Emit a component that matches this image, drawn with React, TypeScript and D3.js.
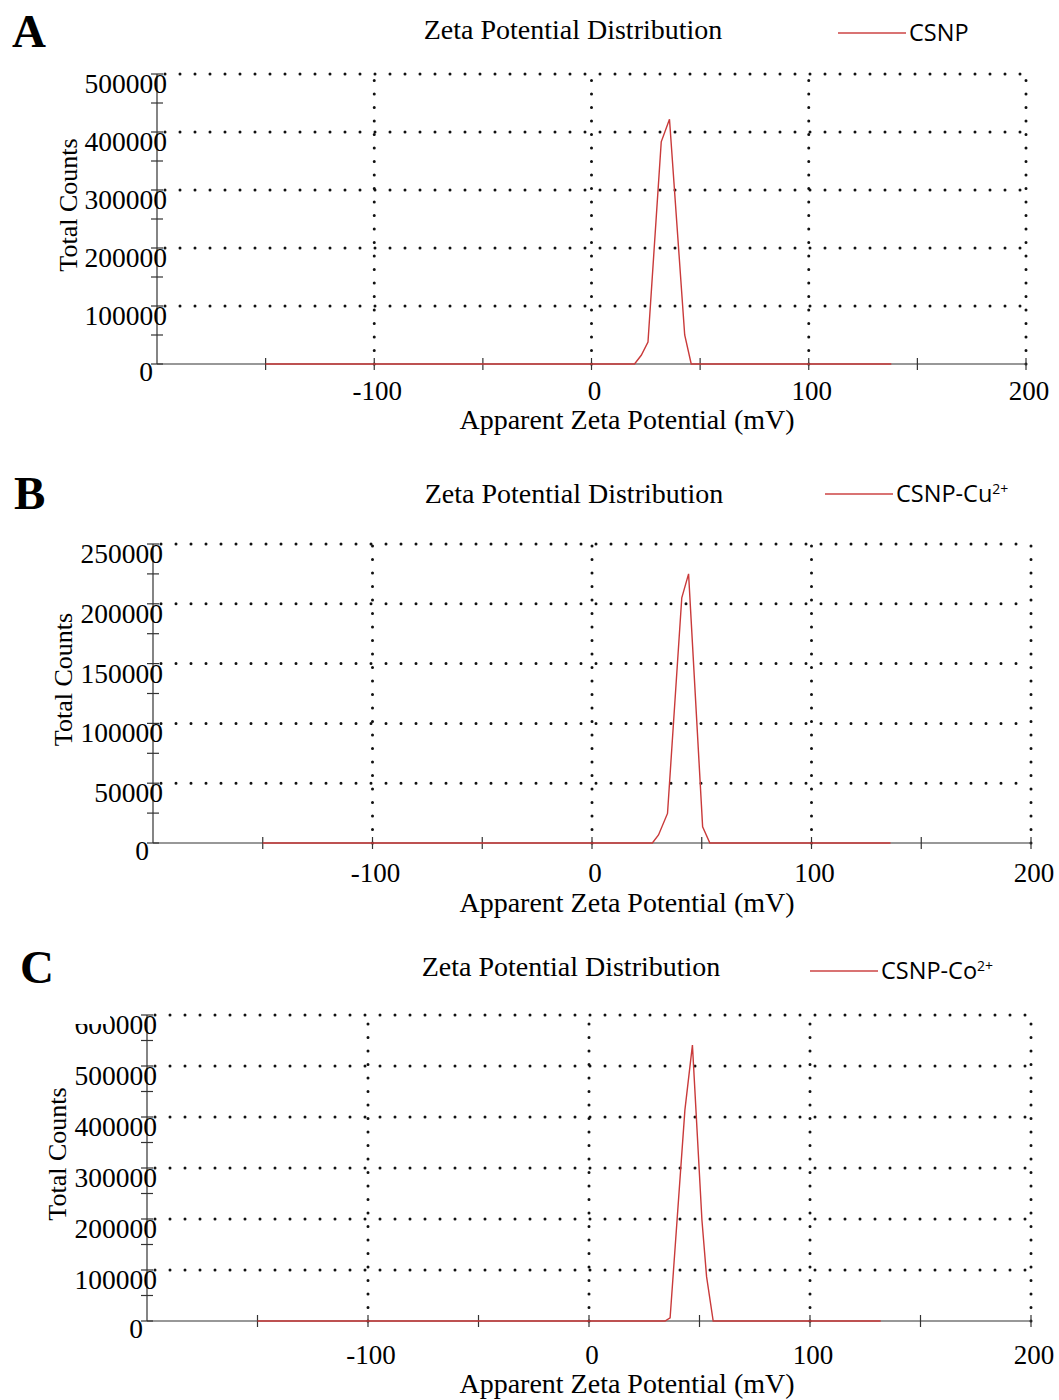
import React from "react";
import * as d3 from "d3";

// x ticks shared by all three panels (mV)
const xTickValues = [-150, -100, -50, 0, 50, 100, 150, 200];
const xTickLabels = ["-100", "0", "100", "200"];
const xLabelValues = [-100, 0, 100, 200];

// panel A: CSNP
const zetaA = [-150, 19.8, 22.9, 26, 32.1, 35.9, 42.9, 45.9, 138];
const countsA = [0, 0, 15000, 38000, 383000, 422000, 50000, 0, 0];
const yTicksA = [100000, 200000, 300000, 400000, 500000];

// panel B: CSNP-Cu2+
const zetaB = [-150, 27.5, 30.3, 34.4, 40.9, 44, 50.4, 53.7, 136];
const countsB = [0, 0, 6700, 24700, 205000, 225000, 13600, 0, 0];
const yTicksB = [50000, 100000, 150000, 200000, 250000];

// panel C: CSNP-Co2+
const zetaC = [-150, 34.4, 36.7, 43.4, 46.8, 51.1, 53.2, 56.2, 132];
const countsC = [0, 0, 6000, 414000, 541000, 198000, 87000, 0, 0];
const yTicksC = [100000, 200000, 300000, 400000, 500000, 600000];

const serif = "'Liberation Serif', 'Times New Roman', serif";
const sans = "'Open Sans', 'Liberation Sans', sans-serif";

interface PanelProps {
  letter: string;
  letterPos: [number, number];
  x0: number;
  x1: number;
  y0: number;
  yTop: number;
  yMax: number;
  yTicks: number[];
  zeta: number[];
  counts: number[];
  titleY: number;
  titleX: number;
  legendX: number;
  legendY: number;
  legend: React.ReactNode;
  yLabelX: number;
  tickLabelDy: number;
  xTitleDy: number;
  clipTop?: boolean;
}

const Panel: React.FC<PanelProps> = (p) => {
  const x = d3.scaleLinear().domain([-200, 200]).range([p.x0, p.x1]);
  const y = d3.scaleLinear().domain([0, p.yMax]).range([p.y0, p.yTop]);
  const step = p.yTicks[1] - p.yTicks[0];
  const minor = d3.range(0, p.yMax + 1, step / 2);
  const line = d3
    .line<number>()
    .x((_, i) => x(p.zeta[i]))
    .y((d) => y(d));
  const clipId = "clip" + p.letter;

  return (
    <g>
      <text
        x={p.letterPos[0]}
        y={p.letterPos[1]}
        fontFamily={serif}
        fontWeight="bold"
        fontSize={47}
      >
        {p.letter}
      </text>
      <text x={p.titleX} y={p.titleY} textAnchor="middle" fontFamily={serif} fontSize={28}>
        Zeta Potential Distribution
      </text>
      <line
        x1={p.legendX}
        x2={p.legendX + 68}
        y1={p.legendY}
        y2={p.legendY}
        stroke="#cc4444"
        strokeWidth={1.3}
      />
      <text x={p.legendX + 71} y={p.legendY + 8} fontFamily={sans} fontSize={23.5}>
        {p.legend}
      </text>

      {/* dotted grid */}
      {p.yTicks.map((t) => (
        <line
          key={"h" + t}
          x1={p.x0 + 8}
          x2={p.x1}
          y1={y(t)}
          y2={y(t)}
          stroke="#111"
          strokeWidth={3}
          strokeLinecap="round"
          strokeDasharray="0 15"
        />
      ))}
      {xLabelValues.map((t) => (
        <line
          key={"v" + t}
          x1={x(t)}
          x2={x(t)}
          y1={p.y0}
          y2={p.yTop}
          stroke="#111"
          strokeWidth={3}
          strokeLinecap="round"
          strokeDasharray="0 13.5"
        />
      ))}

      {/* axes */}
      <line x1={p.x0} x2={p.x1} y1={p.y0} y2={p.y0} stroke="#333" strokeWidth={1.2} />
      <line x1={p.x0} x2={p.x0} y1={p.y0} y2={p.yTop} stroke="#333" strokeWidth={1.2} />
      {xTickValues.map((t) => (
        <line key={"xt" + t} x1={x(t)} x2={x(t)} y1={p.y0 - 6} y2={p.y0 + 6} stroke="#333" strokeWidth={1.2} />
      ))}
      {minor.map((t) => (
        <line key={"yt" + t} x1={p.x0 - 6} x2={p.x0 + 6} y1={y(t)} y2={y(t)} stroke="#333" strokeWidth={1.2} />
      ))}

      {/* y tick labels */}
      <defs>
        <clipPath id={clipId}>
          <rect x={0} y={p.yTop + 9} width={p.x0 + 30} height={p.y0 - p.yTop + 60} />
          <rect x={p.x0 - 37} y={p.yTop - 20} width={70} height={60} />
        </clipPath>
      </defs>
      <g clipPath={p.clipTop ? `url(#${clipId})` : undefined}>
        {p.yTicks.map((t) => (
          <text
            key={"yl" + t}
            x={p.x0 + 10}
            y={y(t) + 19}
            textAnchor="end"
            fontFamily={serif}
            fontSize={27.5}
          >
            {t}
          </text>
        ))}
      </g>
      <text x={p.x0 - 4} y={p.y0 + 17} textAnchor="end" fontFamily={serif} fontSize={27.5}>
        0
      </text>
      {xLabelValues.map((t, i) => (
        <text
          key={"xl" + t}
          x={x(t) + 3}
          y={p.y0 + p.tickLabelDy}
          textAnchor="middle"
          fontFamily={serif}
          fontSize={27}
        >
          {xTickLabels[i]}
        </text>
      ))}
      <text
        x={627}
        y={p.y0 + p.xTitleDy}
        textAnchor="middle"
        fontFamily={serif}
        fontSize={28}
      >
        Apparent Zeta Potential (mV)
      </text>
      <text
        transform={`translate(${p.yLabelX},${(p.y0 + p.yTop) / 2 - 14}) rotate(-90)`}
        textAnchor="middle"
        fontFamily={serif}
        fontSize={26}
      >
        Total Counts
      </text>

      {/* data */}
      <path d={line(p.counts) ?? ""} fill="none" stroke="#c93a3a" strokeWidth={1.4} />
    </g>
  );
};

const sup = (s: string) => (
  <tspan dy={-8} fontSize={14}>
    {s}
  </tspan>
);

export default function App() {
  return (
    <svg
      width={1059}
      height={1400}
      style={{ position: "absolute", left: 0, top: 0, background: "#fff" }}
    >
      <rect width={1059} height={1400} fill="#fff" />
      <Panel
        letter="A"
        letterPos={[12, 47]}
        x0={157}
        x1={1026}
        y0={364}
        yTop={74}
        yMax={500000}
        yTicks={yTicksA}
        zeta={zetaA}
        counts={countsA}
        titleX={573}
        titleY={39}
        legendX={838}
        legendY={33}
        legend="CSNP"
        yLabelX={77}
        tickLabelDy={36}
        xTitleDy={65}
      />
      <Panel
        letter="B"
        letterPos={[14, 509]}
        x0={153}
        x1={1031}
        y0={843}
        yTop={544}
        yMax={250000}
        yTicks={yTicksB}
        zeta={zetaB}
        counts={countsB}
        titleX={574}
        titleY={503}
        legendX={825}
        legendY={494}
        legend={<>CSNP-Cu{sup("2+")}</>}
        yLabelX={72}
        tickLabelDy={39}
        xTitleDy={69}
      />
      <Panel
        letter="C"
        letterPos={[20, 983]}
        x0={147}
        x1={1031}
        y0={1321}
        yTop={1015}
        yMax={600000}
        yTicks={yTicksC}
        zeta={zetaC}
        counts={countsC}
        titleX={571}
        titleY={976}
        legendX={810}
        legendY={971}
        legend={<>CSNP-Co{sup("2+")}</>}
        yLabelX={66}
        tickLabelDy={43}
        xTitleDy={72}
        clipTop
      />
    </svg>
  );
}
